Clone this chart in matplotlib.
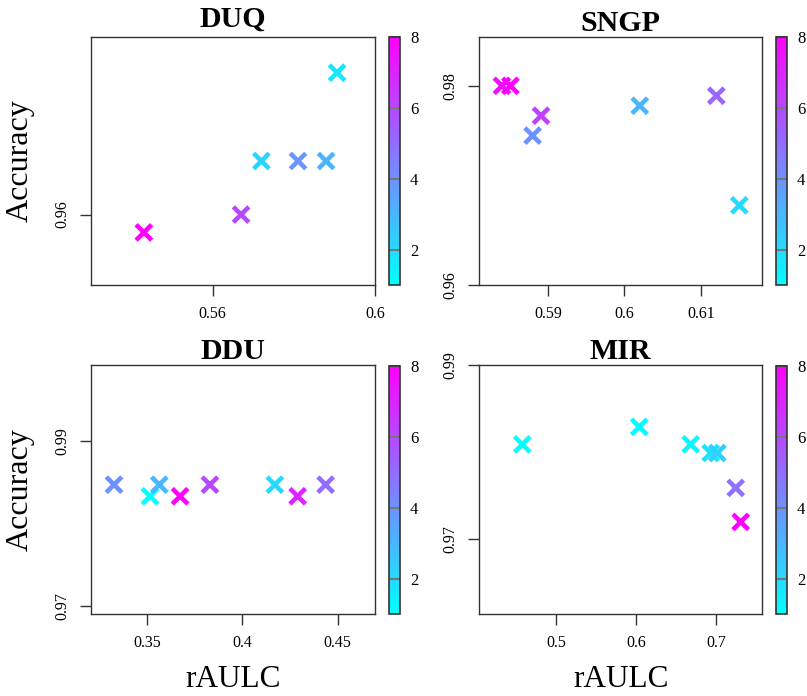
import matplotlib
matplotlib.use("Agg")
import matplotlib.pyplot as plt
from matplotlib.ticker import FormatStrFormatter

plt.rcParams["font.family"] = ["Liberation Serif", "DejaVu Serif"]

# values
duq_raulc = [0.5431, 0.5670, 0.5720, 0.5810, 0.5879, 0.5906]
duq_acc = [0.9582, 0.9600, 0.9654, 0.9654, 0.9654, 0.9743]
duq_color = [8, 6, 2.2, 3.9, 3.1, 1.7]

sngp_raulc = [0.5840, 0.5851, 0.5891, 0.5880, 0.6020, 0.6120, 0.6150]
sngp_acc = [0.9800, 0.9800, 0.9770, 0.9750, 0.9780, 0.9790, 0.9680]
sngp_color = [7.6, 8, 6.2, 4, 3, 5.2, 2]

ddu_raulc = [0.3325, 0.3514, 0.3563, 0.3672, 0.3829, 0.4170, 0.4290, 0.4437]
ddu_acc = [0.9847, 0.9833, 0.9847, 0.9833, 0.9847, 0.9847, 0.9833, 0.9847]
ddu_color = [4, 1, 3, 8, 6, 2, 7, 5]

mir_raulc = [0.4575, 0.6037, 0.6680, 0.6930, 0.7013, 0.7243, 0.7305]
mir_acc = [0.9809, 0.9829, 0.9809, 0.9799, 0.9799, 0.9759, 0.9720]
mir_color = [1, 1.1, 1.2, 1.8, 2.3, 4.9, 8]

titles = ["DUQ", "SNGP", "DDU", "MIR"]
xlims = [(0.5301, 0.600), (0.581, 0.618), (0.3204, 0.4698), (0.4034, 0.7575)]
ylims = [(0.9529, 0.9779), (0.960, 0.9849), (0.969, 0.9992), (0.9614, 0.990)]
xticks = [[0.56, 0.6], [0.59, 0.6, 0.61], [0.35, 0.4, 0.45], [0.5, 0.6, 0.7]]
yticks = [[0.96], [0.96, 0.98], [0.97, 0.99], [0.97, 0.99]]
title_pads = [7.7, 4.0, 4.0, 3.8]

panels = [
    (duq_raulc, duq_acc, duq_color),
    (sngp_raulc, sngp_acc, sngp_color),
    (ddu_raulc, ddu_acc, ddu_color),
    (mir_raulc, mir_acc, mir_color),
]

W, H = 807, 696
fig = plt.figure(figsize=(W / 100, H / 100), dpi=100)


def px_box(x0, y0, x1, y1):
    return [x0 / W, 1 - y1 / H, (x1 - x0) / W, (y1 - y0) / H]


ax_boxes = [
    px_box(91, 37, 375.3, 285),
    px_box(479, 37, 762.3, 285),
    px_box(91, 365, 375.3, 614.3),
    px_box(479, 365, 762.3, 614.3),
]
cb_boxes = [
    px_box(389, 37, 400.3, 285),
    px_box(776, 37, 787.3, 285),
    px_box(389, 366, 400.3, 614.3),
    px_box(776, 366, 787.3, 614.3),
]

edge = "#333333"

for i, (x, y, c) in enumerate(panels):
    ax = fig.add_axes(ax_boxes[i])
    sc = ax.scatter(x, y, c=c, cmap="cool", vmin=1, vmax=8,
                    marker="x", s=125, linewidths=3.3)
    ax.set_xlim(*xlims[i])
    ax.set_ylim(*ylims[i])
    ax.set_xticks(xticks[i])
    ax.set_yticks(yticks[i])
    ax.xaxis.set_major_formatter(FormatStrFormatter("%g"))
    ax.yaxis.set_major_formatter(FormatStrFormatter("%g"))
    ax.tick_params(direction="out", length=8, width=1, color=edge,
                   labelsize=11.5, pad=7)
    ax.tick_params(axis="y", labelrotation=90)
    for lab in ax.get_yticklabels():
        lab.set_va("center")
    for sp in ax.spines.values():
        sp.set_color(edge)
        sp.set_linewidth(1)
    ax.set_title(titles[i], fontsize=21.5, fontweight="bold", pad=title_pads[i])

    if i % 2 == 0:
        ax.set_ylabel("Accuracy", fontsize=23, labelpad=14)
    if i >= 2:
        ax.set_xlabel("rAULC", fontsize=22.5, labelpad=10)

    cax = fig.add_axes(cb_boxes[i])
    cb = fig.colorbar(sc, cax=cax, ticks=[2, 4, 6, 8])
    cb.outline.set_edgecolor(edge)
    cb.outline.set_linewidth(1.2)
    cax.tick_params(direction="in", length=8.1, width=1.5, color="#777777",
                    labelsize=12, pad=7)

fig.savefig("out.png", dpi=100)
